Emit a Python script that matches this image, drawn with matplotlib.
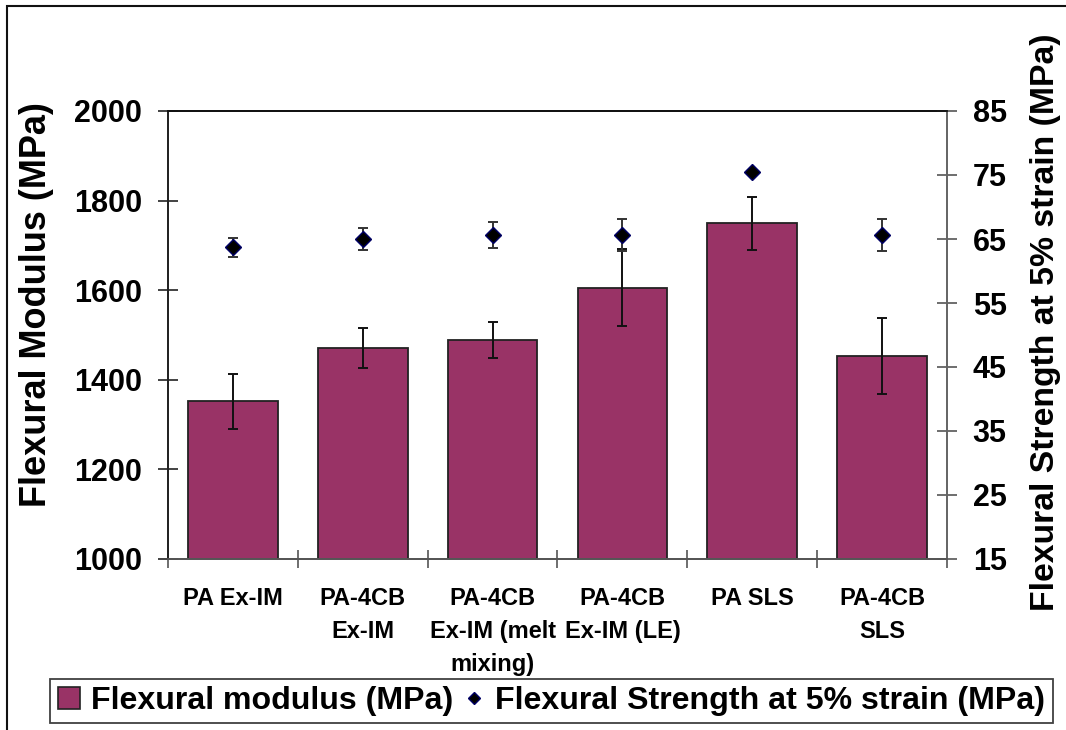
import numpy as np
import matplotlib
matplotlib.use("Agg")
import matplotlib.pyplot as plt
from matplotlib.patches import Rectangle
from matplotlib.lines import Line2D

plt.rcParams['font.family'] = ['Liberation Sans', 'DejaVu Sans']
plt.rcParams['font.weight'] = 'bold'

categories = ['PA Ex-IM', 'PA-4CB\nEx-IM', 'PA-4CB\nEx-IM (melt\nmixing)',
              'PA-4CB\nEx-IM (LE)', 'PA SLS', 'PA-4CB\nSLS']
modulus = [1352, 1471, 1489, 1605, 1749, 1453]
modulus_err = [61, 45, 40, 86, 60, 84]
strength = [63.7, 65.0, 65.6, 65.6, 75.4, 65.6]
strength_err = [1.5, 1.7, 2.0, 2.5, 0.0, 2.5]

left_ticks = [1000, 1200, 1400, 1600, 1800, 2000]
right_ticks = [15, 25, 35, 45, 55, 65, 75, 85]

bar_color = '#993366'
marker_color = '#000066'

fig = plt.figure(figsize=(10.66, 7.30), dpi=100)
W, H = 1066, 730
ax = fig.add_axes([168 / W, 1 - 559 / H, (947 - 168) / W, (559 - 111) / H])
ax2 = ax.twinx()

x = np.arange(len(categories))

ax.bar(x, modulus, width=0.69, color=bar_color, edgecolor='#222222',
       linewidth=1.3, zorder=2)
ax.errorbar(x, modulus, yerr=modulus_err, fmt='none', ecolor='#111111',
            elinewidth=1.4, capsize=3.3, capthick=1.4, zorder=3)

ax.set_xlim(-0.5, len(categories) - 0.5)
ax.set_ylim(1000, 2000)
ax.set_yticks(left_ticks)
ax.set_yticklabels([str(v) for v in left_ticks], fontsize=22, fontweight='bold')
ax.set_xticks(np.arange(-0.5, len(categories)), labels=[''] * (len(categories) + 1))
ax.set_xticks(x, labels=categories, minor=True)
ax.tick_params(axis='x', which='major', direction='inout', length=13,
               width=1.2, color='#555555')
ax.tick_params(axis='x', which='minor', length=0, pad=20, labelsize=17)
for lbl in ax.get_xticklabels(minor=True):
    lbl.set_fontweight('bold')
    lbl.set_multialignment('center')
    lbl.set_linespacing(1.55)
    lbl.set_verticalalignment('top')
ax.tick_params(axis='y', direction='inout', length=15, width=1.2,
               color='#222222', pad=11)
ax.set_ylabel('Flexural Modulus (MPa)', fontsize=26, fontweight='bold')
ax.yaxis.set_label_coords(-0.146, 0.567)

# secondary axis for flexural strength
ax2.set_ylim(15, 85)
ax2.set_yticks(right_ticks)
ax2.set_yticklabels([str(v) for v in right_ticks], fontsize=22, fontweight='bold')
ax2.tick_params(axis='y', direction='inout', length=15, width=1.2,
                color='#555555', pad=11)
ax2.set_ylabel('Flexural Strength at 5% strain (MPa)', fontsize=24.3,
               fontweight='bold')
ax2.yaxis.set_label_coords(1.107, 0.529)

idx = [i for i, e in enumerate(strength_err) if e > 0]
ax2.errorbar([x[i] for i in idx], [strength[i] for i in idx],
             yerr=[strength_err[i] for i in idx], fmt='none', ecolor='#333333',
             elinewidth=1.4, capsize=3.3, capthick=1.4, zorder=3)
ax2.plot(x, strength, linestyle='none', marker='D', markersize=8,
         markerfacecolor='black', markeredgecolor=marker_color,
         markeredgewidth=1.0, zorder=4)

for a in (ax, ax2):
    a.spines['left'].set_color('#222222')
    a.spines['right'].set_color('#666666')
    a.spines['bottom'].set_color('#555555')
    a.spines['top'].set_color('#111111')
    for s in a.spines.values():
        s.set_linewidth(1.3)

# outer chart frame
fig.patches.append(Rectangle((7 / W, -0.1), 1.2, 1 - 6 / H + 0.1,
                             transform=fig.transFigure, fill=False,
                             edgecolor='#111111', linewidth=1.5))

handles = [Rectangle((0, 0), 1, 1, facecolor=bar_color, edgecolor='#222222',
                     linewidth=1.2),
           Line2D([], [], linestyle='none', marker='D', markersize=6,
                  markerfacecolor='black', markeredgecolor=marker_color)]
leg = fig.legend(handles, ['Flexural modulus (MPa)',
                           'Flexural Strength at 5% strain (MPa)'],
                 loc='center', bbox_to_anchor=((47 + 1056) / 2 / W, 1 - 701 / H),
                 ncol=2, frameon=True, fancybox=False,
                 edgecolor='#111111', handlelength=0.7, handleheight=0.7,
                 handletextpad=0.33, columnspacing=0.3, borderpad=0.22,
                 borderaxespad=0, prop={'weight': 'bold', 'size': 23.1})
leg.get_frame().set_linewidth(1.3)

fig.savefig('out.png', dpi=100, facecolor='white')
